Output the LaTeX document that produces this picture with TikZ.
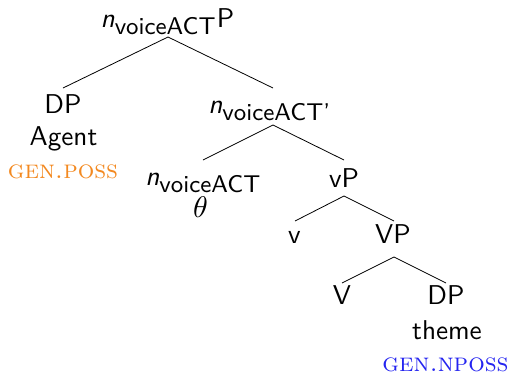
\documentclass[tikz,border=0pt]{standalone}
\definecolor{possorange}{RGB}{243,137,32}
\definecolor{npossblue}{RGB}{36,36,240}
% nominal voice head: sans oblique n with a sans subscript
\newcommand\voiceact{\mbox{\fontsize{8.9}{11}\selectfont\sffamily voiceACT}}
\newcommand\voiceactbar{\mbox{\fontsize{8.9}{11}\selectfont\sffamily voiceACT'}}
\newcommand\nhd{\mbox{\sffamily\slshape n}}
\begin{document}
\begin{tikzpicture}[x=1pt,y=-1pt,
  lbl/.style={anchor=base,inner sep=0pt,scale=2.72,transform shape,
    font=\fontsize{10}{12}\selectfont\sffamily},
  gloss/.style={anchor=base,inner sep=0pt,scale=2.6,transform shape,
    font=\fontsize{10}{12}\selectfont\rmfamily\scshape},
  branch/.style={line width=0.8pt}]
\useasboundingbox (0,0) rectangle (511,376);

% labels
\node[lbl] (root)  at (167.5,27) {$\nhd_{\voiceact}$P};
\node[lbl] (dp)    at (63,113)   {DP};
\node[lbl] (agent) at (63.5,145) {Agent};
\node[gloss,text=possorange] (poss) at (63,178) {gen.poss};
\node[lbl] (nbar)  at (270,113)  {$\nhd_{\voiceactbar}$};
\node[lbl] (nhead) at (203.5,185) {$\nhd_{\voiceact}$};
\node[lbl,font=\fontsize{10.5}{13}\selectfont] (theta) at (200.5,217) {$\theta$};
\node[lbl] (vp)    at (344,187)  {vP};
\node[lbl] (vhead) at (294.5,243) {v};
\node[lbl] (VP)    at (393,243)  {VP};
\node[lbl] (Vhead) at (342,304)  {V};
\node[lbl] (dpt)   at (446,304)  {DP};
\node[lbl] (theme) at (447,339)  {theme};
\node[gloss,text=npossblue] (nposs) at (445.5,371) {gen.nposs};

% branches
\draw[branch] ([xshift=0.5pt,yshift=-10pt]root.base) -- ([yshift=25pt]dp.base);
\draw[branch] ([xshift=0.5pt,yshift=-10pt]root.base) -- ([xshift=3pt,yshift=25pt]nbar.base);
\draw[branch] ([xshift=3pt,yshift=-12pt]nbar.base) -- ([xshift=-0.5pt,yshift=25pt]nhead.base);
\draw[branch] ([xshift=3pt,yshift=-12pt]nbar.base) -- ([yshift=27pt]vp.base);
\draw[branch] ([yshift=-9pt]vp.base) -- ([xshift=0.5pt,yshift=22pt]vhead.base);
\draw[branch] ([yshift=-9pt]vp.base) -- ([xshift=1pt,yshift=22pt]VP.base);
\draw[branch] ([xshift=1pt,yshift=-14pt]VP.base) -- ([yshift=21pt]Vhead.base);
\draw[branch] ([xshift=1pt,yshift=-14pt]VP.base) -- ([yshift=21pt]dpt.base);
\end{tikzpicture}
\end{document}
